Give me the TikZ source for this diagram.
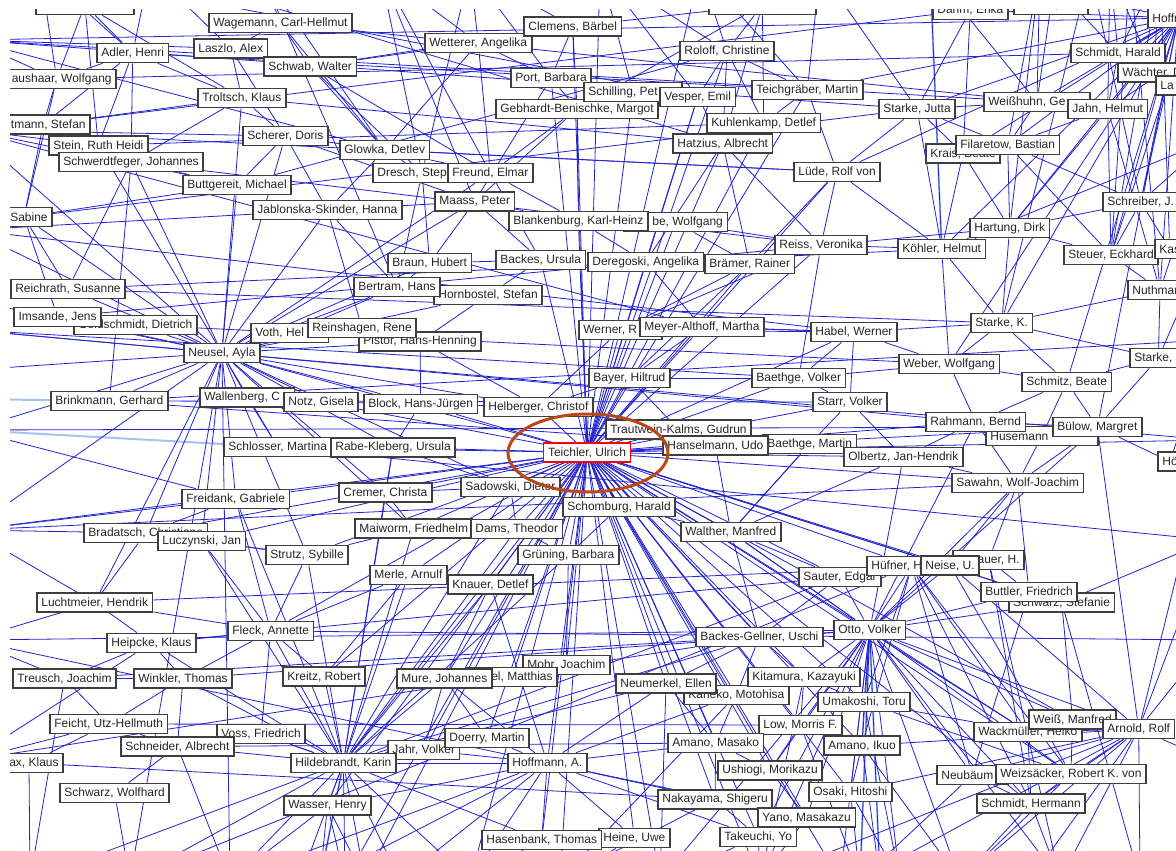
\documentclass[tikz,border=0pt]{standalone}
\usepackage{fontspec}
\setmainfont{Liberation Sans}
\pgfdeclarelayer{bg}
\pgfsetlayers{bg,main}
\definecolor{edgeblue}{RGB}{35,35,205}
\definecolor{hlblue}{RGB}{165,195,240}
\definecolor{boxgray}{RGB}{62,62,62}
\definecolor{ringc}{RGB}{185,72,22}
\newcommand{\hid}[1]{\hspace*{#1pt}}
\tikzset{
 lbl/.style={draw=boxgray, line width=1.7pt, fill=white, text=black!85, font=\fontsize{12}{13}\selectfont, inner xsep=4.5pt, inner ysep=0pt, minimum height=19pt, anchor=west},
 teichbox/.style={lbl, draw=red, line width=1.1pt},
 edge/.style={draw=edgeblue, line width=0.8pt},
 hl/.style={draw=hlblue, line width=2pt},
 ring/.style={draw=ringc, line width=3pt}
}
\begin{document}
\begin{tikzpicture}[x=1pt,y=-1pt]
\useasboundingbox (0,0) rectangle (1176,851);
% off-canvas anchors
\foreach \n/\x in {t1/40,t2/150,t3/260,t4/380,t5/470,t6/600,t7/700,t8/820,t9/930,t10/1040,t11/1110,t12/1160,t13/1130,t14/1090}
  \coordinate (\n) at (\x,-30);
\foreach \n/\x in {b1/30,b2/130,b3/230,b4/320,b5/400,b6/470,b7/560,b8/660,b9/760,b10/860,b11/960,b12/1060,b13/1140,b14/345,b15/365,b16/300,b17/880,b18/900,b19/840,b20/1030}
  \coordinate (\n) at (\x,880);
\foreach \n/\y in {l1/40,l2/130,l3/230,l4/330,l5/430,l6/530,l7/640,l8/760,l9/370,l10/300,l11/399}
  \coordinate (\n) at (-30,\y);
\foreach \n/\y in {r1/40,r2/140,r3/240,r4/340,r5/440,r6/540,r7/640,r8/760}
  \coordinate (\n) at (1210,\y);
\begin{scope}
\clip (10,10) rectangle (1176,851);
% ---------- labels ----------
\node[lbl, minimum width=98pt] (tb1) at (35,5) {};
\node[lbl, minimum width=107pt] (tb2) at (708,5) {};
\node[lbl] (dahm) at (932,10) {Dahm, Erika};
\node[lbl] (blanke) at (1013,5) {Blanke, Olaf};
\node[lbl] (hoffr) at (1147,18) {Hoffmann};
\node[lbl] (schmha) at (1070,53) {Schmidt, Harald};
\node[lbl] (wacht) at (1117,72.5) {Wächter, D.};
\node[lbl] (la) at (1155,85.5) {La};
\node[lbl] (wag) at (208,23) {Wagemann, Carl-Hellmut};
\node[lbl] (adl) at (96,53) {Adler, Henri};
\node[lbl] (las) at (193,48.5) {Laszlo, Alex};
\node[lbl] (schwab) at (263,66.5) {Schwab, Walter};
\node[lbl, anchor=east] (haus) at (117,79) {\hid{10}aushaar, Wolfgang};
\node[lbl] (trol) at (197,98) {Troltsch, Klaus};
\node[lbl, anchor=east] (stef) at (91,124.5) {\hid{10}tmann, Stefan};
\node[lbl] (stein) at (48,145.5) {Stein, Ruth Heidi};
\node[lbl] (schwe) at (58,162) {Schwerdtfeger, Johannes};
\node[lbl] (scher) at (242,136) {Scherer, Doris};
\node[lbl] (glow) at (339,150) {Glowka, Detlev};
\node[lbl] (butt) at (182,185) {Buttgereit, Michael};
\node[lbl] (jabl) at (252,210) {Jablonska-Skinder, Hanna};
\node[lbl, anchor=east] (sab) at (53,217) {\hid{10}Sabine};
\node[lbl] (wett) at (424,43) {Wetterer, Angelika};
\node[lbl] (clem) at (523,26.5) {Clemens, Bärbel};
\node[lbl] (port) at (510,78) {Port, Barbara};
\node[lbl] (gebh) at (495,109) {Gebhardt-Benischke, Margot};
\node[lbl] (schill) at (583,92) {Schilling, Pet\hid{20}};
\node[lbl] (vesp) at (659,97) {Vesper, Emil};
\node[lbl] (rol) at (679,51) {Roloff, Christine};
\node[lbl] (teichg) at (751,90) {Teichgräber, Martin};
\node[lbl] (kuhl) at (706,123) {Kuhlenkamp, Detlef};
\node[lbl] (hatz) at (672,143.5) {Hatzius, Albrecht};
\node[lbl] (lude) at (793,172) {Lüde, Rolf von};
\node[lbl] (dresch) at (372,173) {Dresch, Step\hid{20}};
\node[lbl] (freund) at (447,173) {Freund, Elmar};
\node[lbl] (maass) at (434,201.5) {Maass, Peter};
\node[lbl] (raabe) at (623,222) {\hid{24}be, Wolfgang};
\node[lbl] (blank) at (508,221) {Blankenburg, Karl-Heinz};
\node[lbl] (reiss) at (774,245) {Reiss, Veronika};
\node[lbl] (backu) at (495,260) {Backes, Ursula};
\node[lbl] (dereg) at (587,262) {Deregoski, Angelika};
\node[lbl] (bram) at (704,264) {Brämer, Rainer};
\node[lbl] (braun) at (387,263) {Braun, Hubert};
\node[lbl] (horn) at (433,295) {Hornbostel, Stefan};
\node[lbl] (bert) at (353,287) {Bertram, Hans};
\node[lbl] (starj) at (878,109) {Starke, Jutta};
\node[lbl] (weish) at (983,102) {Weißhuhn, Ge\hid{20}};
\node[lbl] (jahn) at (1067,109) {Jahn, Helmut};
\node[lbl] (krais) at (925,153.5) {Krais, Beate};
\node[lbl] (filar) at (955,145) {Filaretow, Bastian};
\node[lbl] (schreib) at (1102,202) {Schreiber, J.};
\node[lbl] (hart) at (969,228) {Hartung, Dirk};
\node[lbl] (kohl) at (897,249) {Köhler, Helmut};
\node[lbl] (steuer) at (1063,255) {Steuer, Eckhard};
\node[lbl] (kas) at (1154,249) {Kas};
\node[lbl] (nuth) at (1127,290) {Nuthmann};
\node[lbl, anchor=east] (reich) at (126,289) {Reichrath, Susanne};
\node[lbl] (gold) at (73,325) {Goldschmidt, Dietrich};
\node[lbl, anchor=east] (ims) at (102,317) {Imsande, Jens};
\node[lbl] (neus) at (183,353) {Neusel, Ayla};
\node[lbl] (voth) at (250,333) {Voth, Hel\hid{20}};
\node[lbl] (pist) at (358,341.5) {Pistor, Hans-Henning};
\node[lbl] (rein) at (307,328) {Reinshagen, Rene};
\node[lbl] (brink) at (50,401) {Brinkmann, Gerhard};
\node[lbl] (wall) at (199,397.5) {Wallenberg, C\hid{10}};
\node[lbl] (notz) at (283,402) {Notz, Gisela};
\node[lbl] (block) at (363,404) {Block, Hans-Jürgen};
\node[lbl] (helb) at (483,407) {Helberger, Christof};
\node[lbl] (wern) at (578,330) {Werner, R\hid{20}};
\node[lbl] (meyer) at (639,327) {Meyer-Althoff, Martha};
\node[lbl] (habel) at (810,332) {Habel, Werner};
\node[lbl] (bayer) at (588,378) {Bayer, Hiltrud};
\node[lbl] (baev) at (751,378) {Baethge, Volker};
\node[lbl] (starr) at (812,402) {Starr, Volker};
\node[lbl] (traut) at (605,429.5) {Trautwein-Kalms, Gudrun};
\node[lbl] (baem) at (762,444) {Baethge, Martin};
\node[lbl] (hans) at (662,445.5) {Hanselmann, Udo};
\node[lbl] (olb) at (843,457) {Olbertz, Jan-Hendrik};
\node[lbl] (stk) at (970,323) {Starke, K.};
\node[lbl] (stk2) at (1129,358) {Starke, I.};
\node[lbl] (weber) at (898,364) {Weber, Wolfgang};
\node[lbl] (schmitz) at (1021,382) {Schmitz, Beate};
\node[lbl] (huse) at (985,436) {Husemann\hid{45}};
\node[lbl] (rahm) at (925,422) {Rahmann, Bernd};
\node[lbl] (bulow) at (1052,427) {Bülow, Margret};
\node[lbl] (ho) at (1157,461.5) {Hö};
\node[lbl] (sawahn) at (951,483) {Sawahn, Wolf-Joachim};
\node[lbl] (schlo) at (223,447) {Schlosser, Martina};
\node[lbl] (rabe) at (330,447.5) {Rabe-Kleberg, Ursula};
\node[teichbox] (teich) at (543,452.5) {Teichler, Ulrich};
\node[lbl] (sad) at (460,487) {Sadowski, Dieter};
\node[lbl] (schom) at (562,507) {Schomburg, Harald};
\node[lbl] (crem) at (338,492.5) {Cremer, Christa};
\node[lbl] (freid) at (181,499) {Freidank, Gabriele};
\node[lbl] (brad) at (83,533) {Bradatsch, Christiane};
\node[lbl] (lucz) at (157,541) {Luczynski, Jan};
\node[lbl] (strutz) at (265,555) {Strutz, Sybille};
\node[lbl] (maiw) at (354,528.5) {Maiworm, Friedhelm};
\node[lbl] (dams) at (470,529) {Dams, Theodor};
\node[lbl] (grun) at (517,555) {Grüning, Barbara};
\node[lbl] (walth) at (680,532) {Walther, Manfred};
\node[lbl] (merle) at (369,575) {Merle, Arnulf};
\node[lbl] (knau) at (447,584.5) {Knauer, Detlef};
\node[lbl] (saut) at (798,577) {Sauter, Edgar};
\node[lbl] (huf) at (866,566) {Hüfner, H\hid{30}};
\node[lbl, anchor=east] (knauh) at (1025,560) {\hid{20}auer, H.};
\node[lbl] (neise) at (920,565.5) {Neise, U.};
\node[lbl] (schwst) at (1008,602.5) {Schwarz, Stefanie};
\node[lbl] (buttl) at (980,592) {Buttler, Friedrich};
\node[lbl] (lucht) at (36,602.5) {Luchtmeier, Hendrik};
\node[lbl] (heip) at (106,643) {Heipcke, Klaus};
\node[lbl] (fleck) at (227,631) {Fleck, Annette};
\node[lbl, anchor=east] (treu) at (117,678.5) {Treusch, Joachim};
\node[lbl] (wink) at (133,678.5) {Winkler, Thomas};
\node[lbl] (kreitz) at (282,676.5) {Kreitz, Robert};
\node[lbl] (mohr) at (522,665) {Mohr, Joachim};
\node[lbl, anchor=east] (mich) at (558,677) {\hid{20}el, Matthias};
\node[lbl] (mure) at (396,678.5) {Mure, Johannes};
\node[lbl] (bgell) at (695,637) {Backes-Gellner, Uschi};
\node[lbl] (otto) at (833,630) {Otto, Volker};
\node[lbl] (kaneko) at (683,695) {Kaneko, Motohisa};
\node[lbl] (neum) at (615,683.5) {Neumerkel, Ellen};
\node[lbl] (kita) at (747,677) {Kitamura, Kazayuki};
\node[lbl] (umak) at (817,702) {Umakoshi, Toru};
\node[lbl] (feicht) at (49,724) {Feicht, Utz-Hellmuth};
\node[lbl] (voss) at (216,734) {Voss, Friedrich};
\node[lbl] (schnei) at (120,746.5) {Schneider, Albrecht};
\node[lbl, anchor=east] (wax) at (64,763) {\hid{10}ax, Klaus};
\node[lbl] (schwarzw) at (59,793) {Schwarz, Wolfhard};
\node[lbl] (jahr) at (387,750) {Jahr, Volker};
\node[lbl] (hild) at (290,763) {Hildebrandt, Karin};
\node[lbl] (doerry) at (444,738) {Doerry, Martin};
\node[lbl] (hoff) at (507,763) {Hoffmann, A.};
\node[lbl] (wasser) at (283,805.5) {Wasser, Henry};
\node[lbl] (heine) at (598,838) {Heine, Uwe};
\node[lbl] (hasen) at (481,840) {Hasenbank, Thomas};
\node[lbl] (low) at (758,725) {Low, Morris F.};
\node[lbl] (amam) at (667,743) {Amano, Masako};
\node[lbl] (amai) at (823,745.5) {Amano, Ikuo};
\node[lbl] (ushi) at (717,770.5) {Ushiogi, Morikazu};
\node[lbl] (osaki) at (808,792) {Osaki, Hitoshi};
\node[lbl] (naka) at (657,799.5) {Nakayama, Shigeru};
\node[lbl] (yano) at (757,817.5) {Yano, Masakazu};
\node[lbl] (take) at (719,837) {Takeuchi, Yo};
\node[lbl] (wack) at (973,732) {Wackmüller, Heiko};
\node[lbl] (weiss) at (1028,719.5) {Weiß, Manfred};
\node[lbl] (arnold) at (1102,729) {Arnold, Rolf};
\node[lbl] (neub) at (936,775) {Neubäum\hid{10}};
\node[lbl] (weiz) at (995,774) {Weizsäcker, Robert K. von};
\node[lbl] (schmh) at (976,803.5) {Schmidt, Hermann};
% highlight ring
\draw[ring] (588,453) ellipse [x radius=80, y radius=39];
\end{scope}
% ---------- connectors ----------
\begin{pgfonlayer}{bg}
\fill[white] (0,0) rectangle (1176,851);
\begin{scope}
\clip (10,10) rectangle (1176,851);
\foreach \a/\b in {l5/schlo, l11/brink, t9/kohl, hild/b4, otto/b10, hoffr/t11, otto/b17}
  \draw[hl] (\a) -- (\b);
\foreach \t in {schom, sad, dams, grun, walth, merle, knau, mohr, mich, mure, hoff, hild, jahr, doerry, bgell, neum, kaneko, kita, amam, ushi, naka, yano, take, low, amai, osaki, umak, otto, saut, hasen, heine, b6, b7, b8, b9, helb, bayer, meyer, wern, traut, hans, baem, olb, hatz, vesp, rol, kuhl, teichg, gebh, schill, port, clem, dereg, backu, blank, raabe, bram, reiss, lude, habel, baev, starr, rabe, schlo, crem, maiw, block, notz, neus, freid, strutz, rahm, bulow, sawahn, weiz, schmh, wack, weiss, neise, huf, fleck, kreitz, wasser, t6, t7, l6, r5, schwst, buttl, b14, b15, b19, lucz, brad}
  \draw[edge] (teich) -- (\t);
\foreach \t in {brink, ims, reich, gold, l3, l4, l5, l2, l9, l10, wall, notz, schlo, rabe, freid, brad, lucz, strutz, crem, block, pist, rein, voth, bert, braun, horn, jabl, butt, scher, schwe, stein, trol, helb, sad, l6, b3, b2, lucht, maiw, maass, freund, sab}
  \draw[edge] (neus) -- (\t);
\foreach \t in {kreitz, fleck, merle, strutz, maiw, knau, heip, wink, wasser, b3, b4, b5, b2, b14, b15, b16, mure, jahr, doerry, hoff, schnei, voss, crem, lucz, freid, dams, grun, bgell, neum, hasen, b6, rabe, sad}
  \draw[edge] (hild) -- (\t);
\foreach \t in {weiz, schmh, neub, umak, amai, low, osaki, yano, kita, bgell, wack, weiss, arnold, b9, b10, b11, b17, b18, b19, sawahn, saut, neise, buttl, schwst, huf, rahm, bulow, b8, b12, take, ushi, walth, olb}
  \draw[edge] (otto) -- (\t);
\foreach \t in {b9, b10, b11, b12, b13, b20, weiz, schmh, neub, wack, r5, r6, weiss, bulow, r8, amai, osaki}
  \draw[edge] (arnold) -- (\t);
\foreach \t in {hasen, heine, naka, take, b5, b6, b4, wasser, jahr, doerry, mure, neum, amam, l7, b3, kaneko, yano}
  \draw[edge] (hoff) -- (\t);
\foreach \t in {schmha, wacht, jahn, weish, filar, hart, steuer, schreib, kohl, starj, lude, teichg, krais, nuth, stk, schmitz, bulow, weber, r2, r3, l1, t9, dahm, t13, t14}
  \draw[edge] (hoffr) -- (\t);
\foreach \a/\b in {adl/haus, adl/stein, adl/trol, adl/schwe, adl/stef, las/wag, las/schwab, las/scher, las/trol, wag/schwab, wag/glow, wag/t3, schwab/glow, schwab/dresch, schwab/freund, trol/scher, trol/stef, trol/schwe, scher/glow, scher/butt, scher/jabl, scher/maass, glow/dresch, glow/freund, glow/jabl, butt/schwe, butt/sab, jabl/maass, haus/stef, haus/sab, haus/t1, stef/stein, stef/sab, stein/schwe, schwe/reich, schwe/brink, sab/reich, sab/ims, t1/adl, t2/las, t2/adl, t3/glow, t4/freund, t4/maass, t4/dresch, t3/bert, tb1/adl, tb1/haus, tb1/stein, tb1/trol, l1/haus, l1/las, l2/butt, l2/scher, l1/glow, l3/jabl, l2/stein}
  \draw[edge] (\a) -- (\b);
\foreach \a/\b in {wett/freund, wett/schwab, wett/port, wett/t4, clem/t5, clem/gebh, clem/port, port/gebh, port/maass, gebh/freund, gebh/maass, gebh/blank, schill/vesp, vesp/hatz, vesp/dereg, rol/hatz, rol/kuhl, rol/teichg, rol/t6, rol/t7, rol/vesp, teichg/kuhl, teichg/lude, teichg/t8, kuhl/hatz, hatz/dereg, hatz/bram, hatz/reiss, lude/reiss, lude/bram, lude/starj, lude/kohl, maass/blank, maass/backu, maass/braun, freund/blank, freund/backu, blank/dereg, blank/raabe, raabe/bram, raabe/reiss, backu/braun, backu/horn, braun/bert, bert/horn, horn/pist, dresch/braun, dresch/bert, jabl/bert, jabl/rein, tb2/rol, tb2/t6, tb2/kuhl, tb2/clem, tb2/gebh, tb2/hatz, t5/wett, t5/port, t6/schill, t7/teichg, t6/vesp, t5/dresch, clem/schwab, wett/glow}
  \draw[edge] (\a) -- (\b);
\foreach \a/\b in {starj/weish, starj/krais, starj/filar, starj/kohl, starj/t8, weish/jahn, weish/filar, weish/t9, weish/t10, jahn/schmha, jahn/filar, jahn/hart, jahn/steuer, jahn/nuth, schmha/wacht, schmha/t10, schmha/t11, wacht/la, wacht/t11, la/r1, dahm/t9, dahm/krais, dahm/starj, blanke/t10, blanke/weish, krais/kohl, krais/hart, filar/hart, filar/schreib, filar/steuer, hart/kohl, hart/steuer, hart/stk, hart/schreib, kohl/reiss, kohl/weber, kohl/stk, steuer/kas, steuer/schreib, steuer/nuth, schreib/kas, schreib/r2, nuth/stk2, nuth/stk, stk/weber, stk/schmitz, stk/habel, stk/stk2, stk2/schmitz, stk2/bulow, stk2/r3, weber/schmitz, weber/rahm, weber/habel, weber/baev, schmitz/rahm, schmitz/bulow, schmitz/huse, rahm/huse, rahm/bulow, rahm/sawahn, bulow/ho, bulow/sawahn, ho/r4, huse/sawahn, sawahn/neise, sawahn/knauh, sawahn/buttl, olb/rahm, olb/sawahn, olb/starr, starr/baev, baev/habel, habel/meyer, habel/wern, t12/schmha, t12/wacht, t12/steuer, t12/kas, t11/jahn, t10/filar, t10/hart, t9/kohl, la/steuer, la/schreib, kas/r3, nuth/r2, r1/jahn, r2/kohl, t13/steuer, t13/nuth, t14/schreib, t14/stk}
  \draw[edge] (\a) -- (\b);
\foreach \a/\b in {l1/starj, l2/lude, wag/jahn, adl/teichg, stein/kuhl, trol/hatz, schwe/reiss, reich/kohl, ims/hart, brink/olb, brink/starr, gold/weber, l4/rahm, l5/bulow, l6/sawahn, lucht/neise, heip/saut, wink/otto, treu/bgell, feicht/low, schnei/amam, wax/naka, l1/weish, haus/schmha, stef/dahm, sab/starj, reich/stk, l3/habel, l4/baev, glow/lude, butt/rol, t2/hatz, t1/vesp, l7/otto, l8/bgell, b1/saut, b2/huf, l2/meyer, r6/schlo, r5/neus, r7/fleck, r4/brink}
  \draw[edge] (\a) -- (\b);
\foreach \a/\b in {helb/block, helb/bayer, helb/wern, helb/traut, bayer/meyer, bayer/baev, meyer/wern, meyer/habel, meyer/dereg, traut/hans, hans/baem, baem/olb, baem/starr, block/notz, block/rabe, block/pist, notz/wall, wall/schlo, schlo/rabe, rabe/sad, sad/dams, dams/grun, grun/schom, schom/walth, pist/rein, rein/voth, voth/bert, pist/helb, wern/bram, wern/reiss, bayer/bram, starr/habel, baev/reiss, traut/bayer, hans/walth, baem/walth}
  \draw[edge] (\a) -- (\b);
\foreach \a/\b in {lucht/heip, lucht/brad, lucht/l6, heip/wink, heip/fleck, heip/treu, treu/wink, treu/feicht, wink/feicht, wink/schnei, wink/fleck, feicht/schnei, feicht/wax, wax/b1, schwarzw/schnei, schnei/b3, schnei/voss, voss/hild, voss/fleck, fleck/kreitz, fleck/merle, fleck/strutz, kreitz/merle, brad/freid, brad/l6, brad/lucz, lucz/strutz, strutz/maiw, maiw/crem, crem/rabe, crem/sad, maiw/dams, merle/knau, knau/mure, knau/hoff, mure/jahr, mure/doerry, mich/mohr, mohr/grun, wasser/b3, wasser/b4, wasser/b14, wasser/b15, hasen/b6, heine/b7, b1/treu, b2/schwarzw, l7/lucht, l8/feicht, l7/treu, l6/freid, l5/freid, l8/heip, lucht/fleck, brad/strutz, lucz/fleck, freid/fleck, wax/l8}
  \draw[edge] (\a) -- (\b);
\foreach \a/\b in {bgell/neum, bgell/kaneko, bgell/kita, bgell/saut, kita/umak, kita/low, kaneko/amam, neum/amam, amam/ushi, amam/naka, ushi/osaki, ushi/yano, ushi/low, naka/take, naka/yano, yano/take, osaki/amai, amai/low, umak/amai, take/b8, take/b9, yano/b9, osaki/b10, umak/weiz, umak/wack, saut/huf, huf/neise, neise/knauh, knauh/buttl, buttl/schwst, schwst/weiss, schwst/r6, weiss/weiz, wack/schmh, neub/schmh, weiz/schmh, weiz/b11, schmh/b11, schmh/b12, neub/b10, r7/arnold, walth/bgell, walth/otto, walth/saut, walth/baem, walth/olb, huf/weiz, huf/schmh, huf/wack, huf/neub, huf/umak, huf/amai, neise/weiz, neise/arnold, knauh/b12, knauh/schmh, buttl/neub, schwst/b13, naka/b7, kaneko/b7, neum/b8, low/b10, amai/b11, kita/b9, umak/b18, amai/b17, osaki/b18}
  \draw[edge] (\a) -- (\b);
\end{scope}
\end{pgfonlayer}
\end{tikzpicture}
\end{document}
